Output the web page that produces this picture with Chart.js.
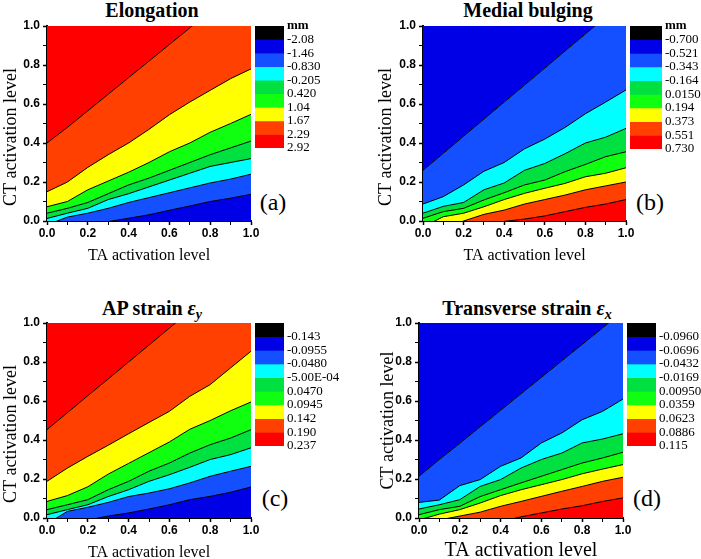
<!DOCTYPE html>
<html><head><meta charset="utf-8">
<script src="https://cdn.jsdelivr.net/npm/chart.js@4/dist/chart.umd.min.js"></script>
<style>
html,body{margin:0;padding:0;background:#fff;width:701px;height:559px;overflow:hidden;position:relative;}
canvas{position:absolute;display:block;}
.ttl{position:absolute;font-family:"Liberation Serif","Times New Roman",serif;font-weight:bold;font-size:20px;line-height:20px;white-space:nowrap;transform:translateX(-50%);color:#000;}
.ttl sub{font-size:14px;line-height:0;vertical-align:-4px;}
.lab{position:absolute;font-family:"Liberation Serif","Times New Roman",serif;font-size:24px;line-height:24px;white-space:nowrap;transform:translate(-50%,-50%);color:#000;}
</style></head><body>
<div class="ttl" style="left:152px;top:0px;">Elongation</div>
<div class="ttl" style="left:528px;top:0px;">Medial bulging</div>
<div class="ttl" style="left:152px;top:298px;">AP strain <i>ε<sub>y</sub></i></div>
<div class="ttl" style="left:527px;top:298px;">Transverse strain <i>ε<sub>x</sub></i></div>
<div class="lab" style="left:273px;top:202px;">(a)</div>
<div class="lab" style="left:650px;top:202px;">(b)</div>
<div class="lab" style="left:275px;top:498px;">(c)</div>
<div class="lab" style="left:647px;top:498px;">(d)</div>

<canvas id="ca" width="263" height="266" style="left:0px;top:0px;"></canvas>
<canvas id="cb" width="263" height="266" style="left:375px;top:0px;"></canvas>
<canvas id="cc" width="263" height="266" style="left:0px;top:297px;"></canvas>
<canvas id="cd" width="258" height="266" style="left:377px;top:297px;"></canvas>
<canvas id="la" width="80" height="142" style="left:255px;top:16px;"></canvas>
<canvas id="lb" width="71" height="143" style="left:630px;top:16px;"></canvas>
<canvas id="lc" width="95" height="143" style="left:255px;top:313px;"></canvas>
<canvas id="ld" width="74" height="143" style="left:627px;top:313px;"></canvas>

<script>
// ---------- shared axis data ----------
const taLevels = [0, 0.1, 0.2, 0.3, 0.4, 0.5, 0.6, 0.7, 0.8, 0.9, 1.0];
const axisTickLabels = ['0.0', '0.2', '0.4', '0.6', '0.8', '1.0'];
const xTitle = 'TA activation level';
const yTitle = 'CT activation level';

// colour scale (top -> bottom of the colour bars)
const scaleColors = ['#000000', '#0000e6', '#1450ff', '#00ffff', '#00e040', '#10ff10', '#ffff00', '#ff4000', '#ff0000'];

// ---------- (a) Elongation: contour lines, CT level at each TA level ----------
const elongLegend = ['mm', '-2.08', '-1.46', '-0.830', '-0.205', '0.420', '1.04', '1.67', '2.29', '2.92'];
const elong_229 = [0.40, 0.48, 0.565, 0.65, 0.735, 0.82, 0.905, 0.99, 1.075, 1.16, 1.245];
const elong_167 = [0.15, 0.20, 0.275, 0.34, 0.40, 0.47, 0.545, 0.61, 0.67, 0.73, 0.78];
const elong_104 = [0.073, 0.10, 0.16, 0.205, 0.25, 0.30, 0.355, 0.40, 0.455, 0.50, 0.547];
const elong_042 = [0.04, 0.065, 0.095, 0.14, 0.185, 0.22, 0.26, 0.30, 0.34, 0.375, 0.41];
const elong_m0205 = [0.013, 0.04, 0.065, 0.11, 0.14, 0.175, 0.21, 0.245, 0.28, 0.30, 0.32];
const elong_m083 = [-0.02, 0.02, 0.04, 0.065, 0.095, 0.12, 0.145, 0.17, 0.195, 0.215, 0.24];
const elong_m146 = [-0.08, -0.055, -0.03, -0.003, 0.014, 0.032, 0.055, 0.077, 0.10, 0.117, 0.137];

// ---------- (b) Medial bulging ----------
const bulgeLegend = ['mm', '-0.700', '-0.521', '-0.343', '-0.164', '0.0150', '0.194', '0.373', '0.551', '0.730'];
const bulge_m0521 = [0.26, 0.347, 0.435, 0.522, 0.61, 0.697, 0.784, 0.872, 0.959, 1.047, 1.134];
const bulge_m0343 = [0.087, 0.125, 0.185, 0.255, 0.30, 0.37, 0.42, 0.48, 0.55, 0.61, 0.672];
const bulge_m0164 = [0.04, 0.075, 0.095, 0.16, 0.195, 0.26, 0.295, 0.345, 0.40, 0.43, 0.475];
const bulge_00150 = [0.014, 0.048, 0.065, 0.108, 0.145, 0.185, 0.21, 0.253, 0.29, 0.33, 0.355];
const bulge_0194 = [-0.03, 0.022, 0.04, 0.073, 0.11, 0.142, 0.168, 0.193, 0.227, 0.245, 0.273];
const bulge_0373 = [-0.07, -0.035, 0.0, 0.034, 0.056, 0.087, 0.11, 0.133, 0.16, 0.18, 0.20];
const bulge_0551 = [-0.12, -0.10, -0.07, -0.035, -0.002, 0.01, 0.026, 0.048, 0.07, 0.087, 0.11];

// ---------- (c) AP strain ----------
const apLegend = ['', '-0.143', '-0.0955', '-0.0480', '-5.00E-04', '0.0470', '0.0945', '0.142', '0.190', '0.237'];
const ap_0190 = [0.453, 0.54, 0.627, 0.713, 0.80, 0.887, 0.974, 1.06, 1.147, 1.234, 1.32];
const ap_0142 = [0.188, 0.256, 0.316, 0.373, 0.432, 0.49, 0.547, 0.624, 0.684, 0.77, 0.855];
const ap_00945 = [0.085, 0.115, 0.16, 0.225, 0.28, 0.335, 0.39, 0.455, 0.50, 0.55, 0.595];
const ap_00470 = [0.043, 0.068, 0.094, 0.145, 0.188, 0.24, 0.282, 0.333, 0.376, 0.41, 0.453];
const ap_m00005 = [0.017, 0.043, 0.068, 0.11, 0.145, 0.188, 0.222, 0.26, 0.30, 0.325, 0.36];
const ap_m00480 = [-0.03, 0.034, 0.055, 0.08, 0.11, 0.128, 0.15, 0.18, 0.214, 0.24, 0.265];
const ap_m00955 = [-0.07, -0.04, -0.01, 0.01, 0.026, 0.046, 0.068, 0.094, 0.111, 0.132, 0.159];

// ---------- (d) Transverse strain ----------
const trLegend = ['', '-0.0960', '-0.0696', '-0.0432', '-0.0169', '0.00950', '0.0359', '0.0623', '0.0886', '0.115'];
const tr_m00696 = [0.214, 0.30, 0.383, 0.468, 0.552, 0.637, 0.721, 0.806, 0.89, 0.975, 1.06];
const tr_m00432 = [0.08, 0.092, 0.166, 0.197, 0.265, 0.308, 0.385, 0.436, 0.504, 0.547, 0.61];
const tr_m00169 = [0.046, 0.068, 0.094, 0.162, 0.197, 0.256, 0.30, 0.333, 0.385, 0.405, 0.432];
const tr_00095 = [0.017, 0.043, 0.06, 0.11, 0.145, 0.18, 0.214, 0.248, 0.282, 0.308, 0.337];
const tr_00359 = [-0.01, 0.02, 0.043, 0.077, 0.115, 0.145, 0.171, 0.197, 0.227, 0.251, 0.274];
const tr_00623 = [-0.04, -0.01, 0.01, 0.03, 0.06, 0.085, 0.111, 0.137, 0.162, 0.188, 0.209];
const tr_00886 = [-0.2, -0.15, -0.11, -0.07, -0.018, 0.006, 0.026, 0.046, 0.063, 0.085, 0.103];

// ---------- builders ----------
const C = scaleColors;
const pad6 = '\u00a0\u00a0\u00a0\u00a0\u00a0\u00a0';
const panels = [
  { id: 'ca', yw: 47, xfs: 16, ytext: yTitle + pad6, bounds: [elong_229, elong_167, elong_104, elong_042, elong_m0205, elong_m083, elong_m146],
    bands: [C[8], C[7], C[6], C[5], C[4], C[3], C[2], C[1]] },
  { id: 'cb', yw: 48, xfs: 16, ytext: yTitle + pad6, bounds: [bulge_m0521, bulge_m0343, bulge_m0164, bulge_00150, bulge_0194, bulge_0373, bulge_0551],
    bands: [C[1], C[2], C[3], C[4], C[5], C[6], C[7], C[8]] },
  { id: 'cc', yw: 47, xfs: 16, ytext: yTitle + pad6, bounds: [ap_0190, ap_0142, ap_00945, ap_00470, ap_m00005, ap_m00480, ap_m00955],
    bands: [C[8], C[7], C[6], C[5], C[4], C[3], C[2], C[1]] },
  { id: 'cd', yw: 42, xfs: 20, ytext: yTitle, bounds: [tr_m00696, tr_m00432, tr_m00169, tr_00095, tr_00359, tr_00623, tr_00886],
    bands: [C[1], C[2], C[3], C[4], C[5], C[6], C[7], C[8]] }
];

const toPts = arr => taLevels.map((x, i) => ({ x: x, y: arr[i] }));
const tickLabel = v => { const k = Math.round(v * 10); return k % 2 === 0 ? axisTickLabels[k / 2] : ''; };
const tickW = ctx => (ctx.tick && Math.round(ctx.tick.value * 10) % 2 === 0 ? 1.5 : 1);

function axisCommon() {
  return {
    type: 'linear', min: 0, max: 1,
    ticks: { stepSize: 0.1, autoSkip: false, maxRotation: 0, minRotation: 0, color: '#000',
             font: { family: 'Liberation Sans', size: 12, weight: 'bold' }, callback: tickLabel },
    grid: { display: true, drawOnChartArea: false, drawTicks: true, tickLength: 4, tickColor: '#000', tickWidth: tickW },
    border: { display: true, color: '#000', width: 2 }
  };
}

panels.forEach(p => {
  const ds = [];
  for (let k = p.bounds.length - 1; k >= 0; k--) {
    ds.push({ data: toPts(p.bounds[k]), fill: 'start', backgroundColor: p.bands[k + 1],
              borderColor: '#000', borderWidth: 1, pointRadius: 0, tension: 0 });
  }
  ds.push({ data: toPts(p.bounds[0]), fill: 'end', backgroundColor: p.bands[0],
            borderColor: 'rgba(0,0,0,0)', borderWidth: 1, pointRadius: 0, tension: 0 });
  const x = axisCommon();
  x.ticks.padding = 1;
  x.afterFit = s => { s.height = 45; };
  x.title = { display: true, text: xTitle, color: '#000', font: { family: 'Liberation Serif', size: p.xfs, lineHeight: 1.2 }, padding: { top: 0, bottom: p.xfs > 16 ? 0 : 1 } };
  const y = axisCommon();
  y.ticks.padding = 3;
  y.afterFit = s => { s.width = p.yw; };
  y.title = { display: true, text: p.ytext, color: '#000', font: { family: 'Liberation Serif', size: 18 }, padding: { top: 0, bottom: 0 } };
  new Chart(document.getElementById(p.id), {
    type: 'line',
    data: { datasets: ds },
    options: {
      responsive: false, animation: false, devicePixelRatio: 1,
      layout: { padding: { top: 26, right: 12, bottom: 0, left: 0 } },
      plugins: { legend: { display: false }, tooltip: { enabled: false }, title: { display: false } },
      elements: { point: { radius: 0 } },
      scales: { x: x, y: y }
    }
  });
});

// ---------- colour bars ----------
const bars = [
  { id: 'la', bw: 29, labels: elongLegend },
  { id: 'lb', bw: 32, labels: bulgeLegend },
  { id: 'lc', bw: 29, labels: apLegend },
  { id: 'ld', bw: 29, labels: trLegend }
];
bars.forEach(b => {
  const cv = document.getElementById(b.id);
  const ds = scaleColors.map(c => ({ data: [1], backgroundColor: c, borderWidth: 0, stack: 's',
                                     barPercentage: 1, categoryPercentage: 1 }));
  new Chart(cv, {
    type: 'bar',
    data: { labels: [''], datasets: ds },
    options: {
      responsive: false, animation: false, devicePixelRatio: 1,
      layout: { padding: { top: 10, bottom: 10, left: 0, right: 0 } },
      plugins: { legend: { display: false }, tooltip: { enabled: false } },
      scales: {
        x: { display: false, stacked: true },
        y: { position: 'right', stacked: true, min: 0, max: 9, reverse: true,
             afterFit: s => { s.width = cv.width - b.bw; },
             grid: { display: false, drawTicks: false }, border: { display: false },
             ticks: { stepSize: 1, autoSkip: false, padding: 3, color: '#000',
                      font: ctx => ({ family: 'Liberation Serif', size: 13, lineHeight: 1,
                                      weight: (ctx.tick && Math.round(ctx.tick.value) === 0) ? 'bold' : 'normal' }),
                      callback: v => b.labels[Math.round(v)] } }
      }
    }
  });
});
</script>
</body></html>
